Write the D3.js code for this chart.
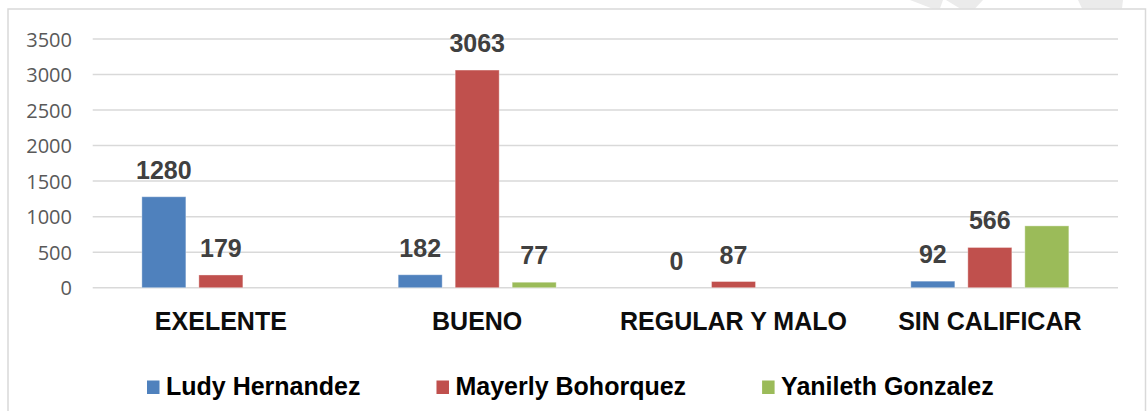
<!DOCTYPE html>
<html>
<head>
<meta charset="utf-8">
<script src="https://cdn.jsdelivr.net/npm/d3@7"></script>
<style>
  html, body { margin: 0; padding: 0; background: #ffffff; }
  svg { display: block; }
</style>
</head>
<body>
<svg id="chart" width="1147" height="411"></svg>
<script>
// ---- data ----
const categories = ["EXELENTE", "BUENO", "REGULAR Y MALO", "SIN CALIFICAR"];
const seriesNames = ["Ludy Hernandez", "Mayerly Bohorquez", "Yanileth Gonzalez"];
const ludyValues = [1280, 182, 0, 92];
const mayerlyValues = [179, 3063, 87, 566];
const yanilethValues = [null, 77, null, 870];
const ludyLabels = [true, true, true, true];
const mayerlyLabels = [true, true, true, true];
const yanilethLabels = [false, true, false, false];
const yTicks = [0, 500, 1000, 1500, 2000, 2500, 3000, 3500];
const colors = ["#4f81bd", "#c0504d", "#9bbb59"];

const seriesValues = [ludyValues, mayerlyValues, yanilethValues];
const seriesLabels = [ludyLabels, mayerlyLabels, yanilethLabels];

const svg = d3.select("#chart");

// watermark fragments above the chart frame
const wm = [
  [[910,0],[943,0],[940,8.5],[932,8.5]],
  [[946,0],[983,0],[975,8.5],[960,8.5]],
  [[1078,0],[1123,0],[1122,8.5],[1082,8.5]]
];
svg.selectAll("polygon.wm").data(wm).join("polygon")
  .attr("class", "wm")
  .attr("points", d => d.map(p => p.join(",")).join(" "))
  .attr("fill", "#ebebeb");

// chart frame
svg.append("rect")
  .attr("x", 8).attr("y", 9)
  .attr("width", 1137.5).attr("height", 430)
  .attr("fill", "#ffffff")
  .attr("stroke", "#d9d9d9").attr("stroke-width", 1.5);

const plotLeft = 92.7, plotRight = 1118;
const y = d3.scaleLinear().domain([0, 3500]).range([287.7, 39]);
const x0 = d3.scaleBand().domain(categories).range([plotLeft, plotRight]).padding(0);
const groupWidth = 158;
const x1 = d3.scaleBand().domain(seriesNames).range([0, groupWidth])
  .paddingInner(13 / 57).paddingOuter(0);

// gridlines
svg.append("g")
  .selectAll("line").data(yTicks).join("line")
  .attr("x1", plotLeft).attr("x2", plotRight)
  .attr("y1", d => y(d)).attr("y2", d => y(d))
  .attr("stroke", "#d9d9d9").attr("stroke-width", 1.5);

// y axis labels via d3 axis
const yAxis = d3.axisLeft(y).tickValues(yTicks).tickFormat(d3.format("d")).tickSize(0).tickPadding(0);
const gy = svg.append("g").attr("transform", "translate(72,0)").call(yAxis);
gy.select(".domain").remove();
gy.selectAll("text")
  .attr("fill", "#595959")
  .style("font-family", "'Open Sans', 'Noto Sans', sans-serif")
  .style("font-size", "20px")
  .attr("dy", "0.35em");

// bars
const rows = [];
seriesNames.forEach((s, si) => {
  categories.forEach((c, ci) => {
    rows.push({ series: s, si, cat: c, value: seriesValues[si][ci], label: seriesLabels[si][ci] });
  });
});
const groupOffset = c => x0(c) + (x0.bandwidth() - groupWidth) / 2;

svg.append("g").selectAll("rect")
  .data(rows.filter(d => d.value !== null && d.value > 0))
  .join("rect")
  .attr("x", d => groupOffset(d.cat) + x1(d.series))
  .attr("width", x1.bandwidth())
  .attr("y", d => y(d.value))
  .attr("height", d => y(0) - y(d.value))
  .attr("fill", d => colors[d.si])
  .attr("stroke", "rgba(255,255,255,0.35)")
  .attr("stroke-width", 1);

// data labels
svg.append("g").selectAll("text")
  .data(rows.filter(d => d.value !== null && d.label))
  .join("text")
  .attr("x", d => groupOffset(d.cat) + x1(d.series) + x1.bandwidth() / 2)
  .attr("y", d => y(d.value) - 18)
  .attr("text-anchor", "middle")
  .attr("fill", "#404040")
  .style("font-family", "'Liberation Sans', Arial, sans-serif")
  .style("font-weight", "bold")
  .style("font-size", "25px")
  .text(d => d.value);

// category labels
svg.append("g").selectAll("text")
  .data(categories).join("text")
  .attr("x", d => x0(d) + x0.bandwidth() / 2)
  .attr("y", 330)
  .attr("text-anchor", "middle")
  .attr("fill", "#0d0d0d")
  .style("font-family", "'Liberation Sans', Arial, sans-serif")
  .style("font-weight", "bold")
  .style("font-size", "25px")
  .text(d => d);

// legend
const legend = svg.append("g");
let lx = 147;
seriesNames.forEach((s, i) => {
  const g = legend.append("g").attr("transform", `translate(${lx},0)`);
  g.append("rect").attr("x", 0).attr("y", 380.5).attr("width", 12.5).attr("height", 13.5)
    .attr("fill", colors[i]);
  const t = g.append("text").attr("x", 19).attr("y", 395)
    .attr("fill", "#000000")
    .style("font-family", "'Liberation Sans', Arial, sans-serif")
    .style("font-weight", "bold")
    .style("font-size", "25px")
    .text(s);
  lx += 19 + t.node().getComputedTextLength() + 76;
});
</script>
</body>
</html>
